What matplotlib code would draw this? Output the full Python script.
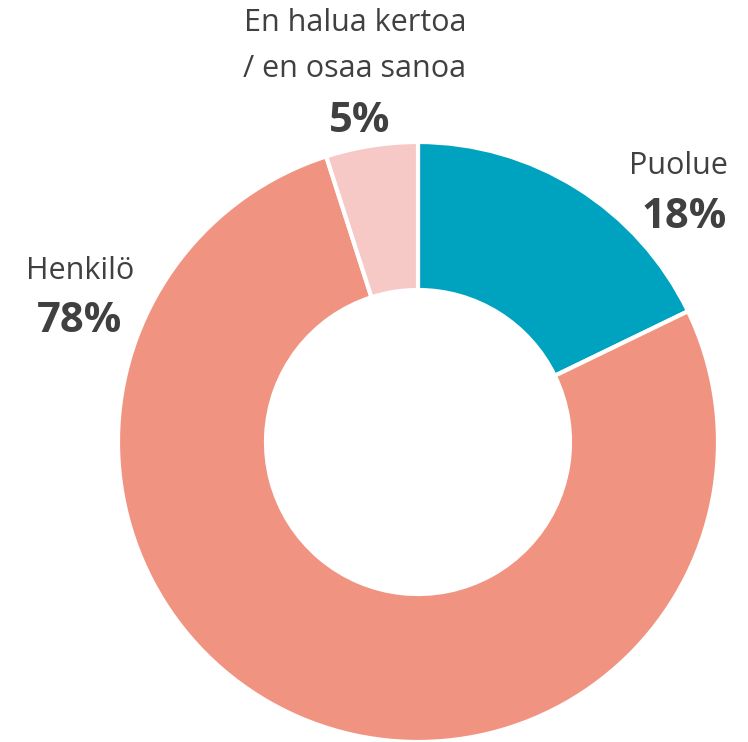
import matplotlib.pyplot as plt

labels = ["Puolue", "Henkilö", "En halua kertoa\n/ en osaa sanoa"]
values = [18, 78, 5]
colors = ["#00A3BF", "#F19381", "#F7C9C6"]

plt.rcParams["font.family"] = ["Open Sans", "DejaVu Sans"]
TEXT = "#404040"
H = 742

fig = plt.figure(figsize=(7.48, 7.42), dpi=100)
ax = fig.add_axes([0, 0, 1, 1])

# pixel-like coordinates, y up
cx, cy, r = 418, 300, 300
ax.pie(values, colors=colors, startangle=90, counterclock=False,
       center=(cx, cy), radius=r,
       wedgeprops=dict(width=148, edgecolor="white", linewidth=3))
ax.set_xlim(0, 748)
ax.set_ylim(0, H)
ax.set_aspect("equal")
ax.axis("off")

# label positions given as (x name, x pct, first line y, pct y) from top
pos = [(678, 684, 166, 218), (80, 80, 271, 321), (355, 360, 23, 121)]
for lab, v, (xn, xp, yn, yp) in zip(labels, values, pos):
    for i, line in enumerate(lab.split("\n")):
        ax.text(xn, H - yn - 46 * i, line, ha="center", va="center",
                fontsize=22, color=TEXT)
    ax.text(xp, H - yp, f"{v}%", ha="center", va="center", fontsize=30,
            fontweight="bold", color=TEXT)

fig.savefig("out.png", dpi=100)
